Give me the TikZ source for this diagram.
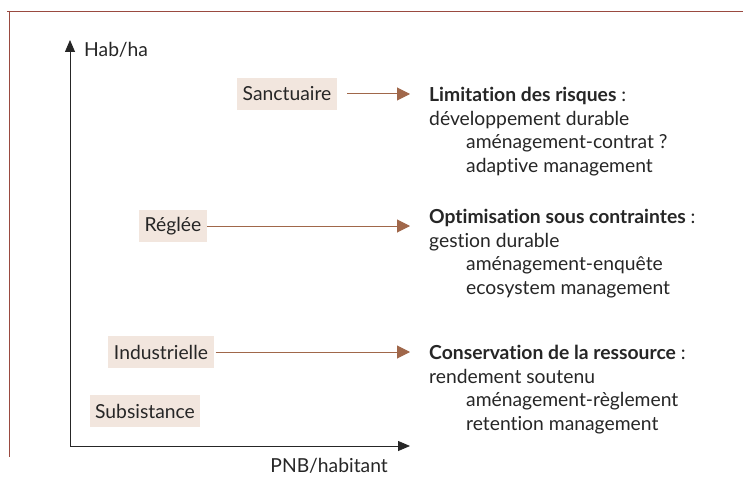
\documentclass[tikz,border=0pt]{standalone}
\usepackage{fontspec}
\setmainfont{Lato}[Ligatures=NoCommon]
\usetikzlibrary{arrows.meta}
\definecolor{framecol}{HTML}{9A4A40}
\definecolor{boxfill}{HTML}{F2E6DE}
\definecolor{arrcol}{HTML}{A0674A}
\begin{document}
\begin{tikzpicture}[x=1pt,y=-1pt,
  every node/.style={font=\fontsize{19.3}{23.5}\selectfont, text=black!85},
  box/.style={fill=boxfill, minimum height=32pt, inner xsep=5.5pt, inner ysep=4pt},
  txt/.style={align=left, anchor=north west, inner sep=0pt},
  axis/.style={line width=0.8pt, black!85, -{Triangle[length=12pt,width=10pt]}},
  conn/.style={line width=1pt, arrcol, -{Triangle[length=13pt,width=13pt]}}]
\useasboundingbox (0,0) rectangle (743,489);
\fill[white] (0,0) rectangle (743,489);
\draw[framecol, line width=0.8pt] (7,11) -- (743,11);
\draw[framecol, line width=0.8pt] (9,11) -- (9,457);
\coordinate (O) at (70,446);
\coordinate (ytip) at (70,40);
\coordinate (xtip) at (410,446);
\draw[axis] (O) -- (ytip);
\draw[axis] (O) -- (xtip);
\node[anchor=base west, inner sep=0pt] (yl) at (84,57) {Hab/ha};
\node[anchor=base east, inner sep=0pt] (xl) at (388,472) {PNB/habitant};
\node[box] (sanct) at (287,94) {Sanctuaire};
\node[box] (regl) at (173,226) {Réglée};
\node[box] (indus) at (161,352) {Industrielle};
\node[box] (subs) at (145,411) {Subsistance};
\coordinate (t1) at (410,94);
\coordinate (t2) at (410,226);
\coordinate (t3) at (410,352);
\draw[conn, shorten <=10pt] (sanct.east) -- (t1);
\draw[conn] (regl.east) -- (t2);
\draw[conn, shorten <=2pt] (indus.east) -- (t3);
\node[txt] (lim) at (429,87) {\textbf{Limitation des risques} :\\ développement durable\\ \hspace*{37pt}aménagement-contrat ?\\ \hspace*{37pt}adaptive management};
\node[txt] (opt) at (429,209) {\textbf{Optimisation sous contraintes} :\\ gestion durable\\ \hspace*{37pt}aménagement-enquête\\ \hspace*{37pt}ecosystem management};
\node[txt] (cons) at (429,345) {\textbf{Conservation de la ressource} :\\ rendement soutenu\\ \hspace*{37pt}aménagement-règlement\\ \hspace*{37pt}retention management};
\end{tikzpicture}
\end{document}
